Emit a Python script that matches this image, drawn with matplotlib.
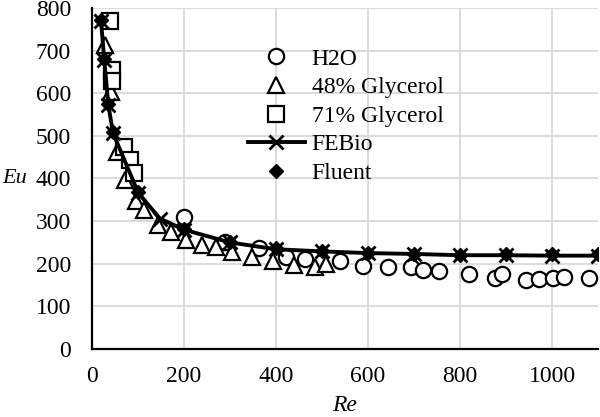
import matplotlib
matplotlib.use("Agg")
import matplotlib.pyplot as plt

# H2O experiments
re_h2o = [200, 290, 364, 421, 463, 540, 590, 644, 694, 719, 754, 819, 876, 891, 943, 972, 1002, 1026, 1081]
eu_h2o = [310, 251, 237, 217, 211, 206, 194, 192, 192, 185, 183, 176, 167, 176, 163, 164, 167, 169, 166]

# 48% glycerol
re_g48 = [28, 42, 55, 73, 95, 114, 143, 172, 204, 239, 269, 305, 349, 393, 440, 484, 508]
eu_g48 = [712, 603, 462, 397, 347, 326, 292, 274, 256, 243, 240, 227, 216, 207, 196, 193, 200]

# 71% glycerol
re_g71 = [39, 43, 43, 70, 84, 91]
eu_g71 = [770, 655, 629, 474, 443, 414]

# simulations
re_febio = [20, 27, 36, 46, 101, 148, 200, 300, 400, 500, 600, 700, 800, 900, 1000, 1100]
eu_febio = [770, 679, 572, 507, 366, 306, 280, 250, 234, 229, 225, 223, 220, 220, 219, 219]

re_fluent = [20, 27, 36, 46, 101, 200, 300, 400, 500, 600, 700, 800, 900, 1000, 1100]
eu_fluent = [772, 681, 574, 508, 369, 282, 251, 237, 231, 226, 224, 221, 222, 222, 222]

plt.rcParams['font.family'] = ['Liberation Serif', 'DejaVu Serif']

fig = plt.figure(figsize=(6, 4.17), dpi=100)
ax = fig.add_axes([0.153, 0.163, 0.844, 0.818])

ax.plot(re_h2o, eu_h2o, 'o', ms=11, mfc='white', mec='black', mew=1.6, ls='none', label='H2O')
ax.plot(re_g48, eu_g48, '^', ms=12, mfc='white', mec='black', mew=1.6, ls='none', label='48% Glycerol')
ax.plot(re_g71, eu_g71, 's', ms=11, mfc='white', mec='black', mew=1.6, ls='none', label='71% Glycerol')
ax.plot(re_febio, eu_febio, '-x', color='black', lw=2.8, ms=10, mew=2, label='FEBio')
ax.plot(re_fluent, eu_fluent, 'D', color='black', ms=7.5, ls='none', label='Fluent')

ax.set_xlim(0, 1100)
ax.set_ylim(0, 800)
ax.set_xticks(range(0, 1001, 200))
ax.set_yticks(range(0, 801, 100))
ax.grid(True, color='#d9d9d9', lw=1.3)
ax.set_axisbelow(True)
ax.tick_params(axis='y', length=0, labelsize=17, pad=15)
ax.tick_params(axis='x', length=0, labelsize=17, pad=12)

for s in ['top', 'right']:
    ax.spines[s].set_visible(False)
for s in ['left', 'bottom']:
    ax.spines[s].set_linewidth(1.6)

ax.set_xlabel('Re', fontsize=17, style='italic', labelpad=6)
ax.set_ylabel('Eu', fontsize=16, style='italic', rotation=0, va='center', ha='center')
ax.yaxis.set_label_coords(-0.152, 0.5)

ax.legend(loc='upper left', bbox_to_anchor=(0.29, 0.91), frameon=False, fontsize=17,
          handlelength=2.4, handletextpad=0.3, labelspacing=0.3, borderaxespad=0)

fig.savefig('out.png', dpi=100)
